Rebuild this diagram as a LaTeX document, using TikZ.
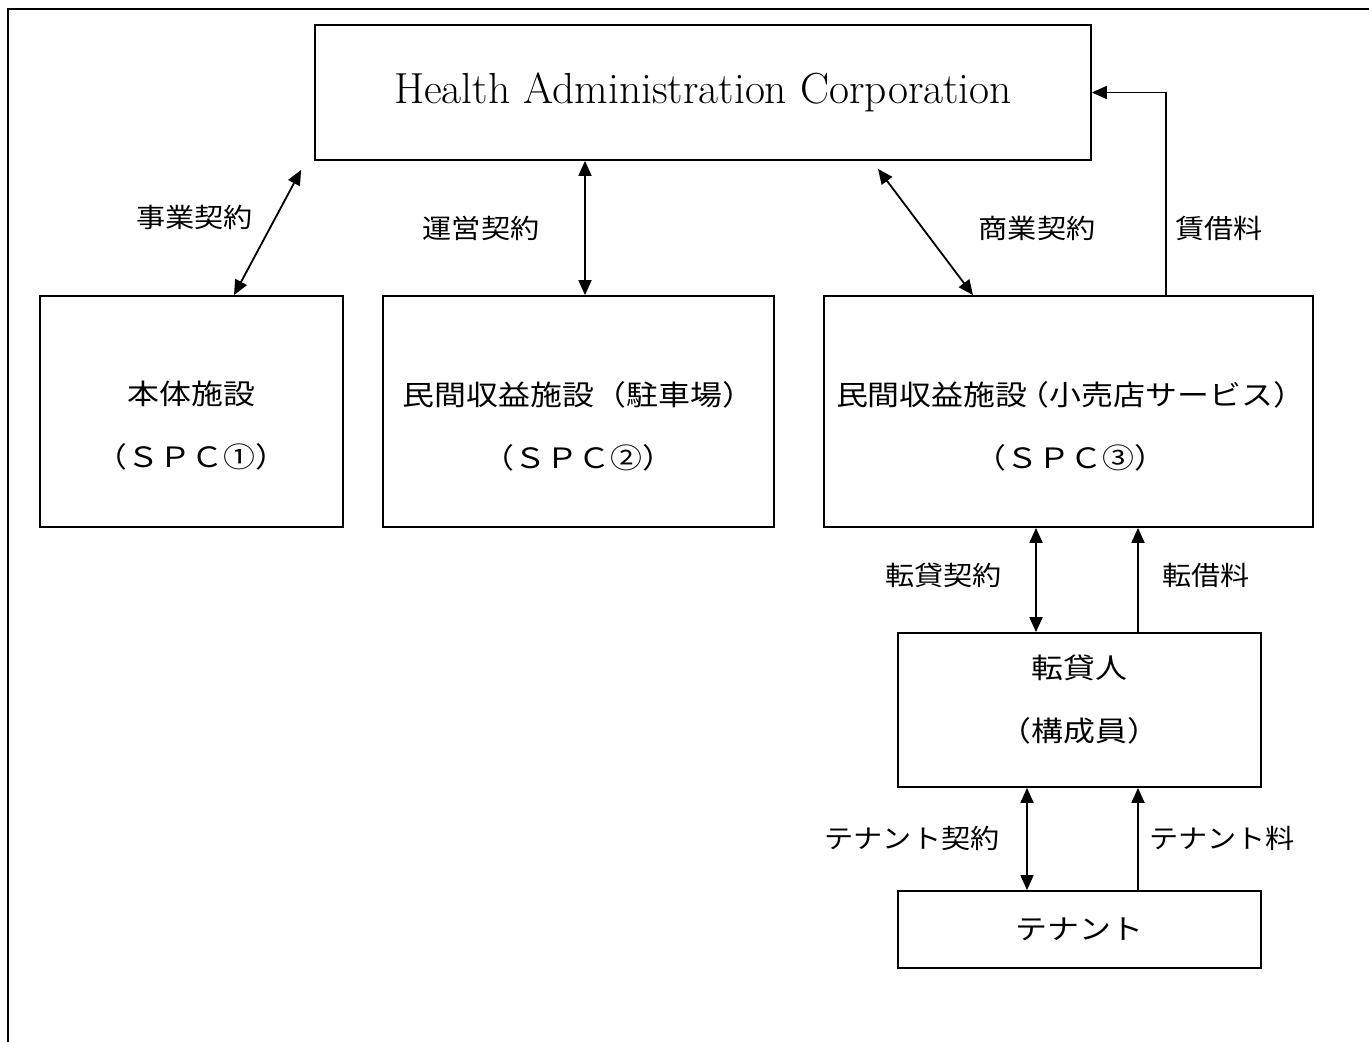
\documentclass[tikz,border=0pt]{standalone}
\usepackage{fontspec}
\newfontfamily\jpl{Noto Sans CJK JP}[FakeStretch=1.1]
\newfontfamily\jpb{Noto Sans CJK JP}[FakeStretch=1.14]
\usetikzlibrary{arrows.meta,calc}
\begin{document}
\begin{tikzpicture}[x=1pt,y=-1pt,
  box/.style={draw, line width=1.8pt, inner sep=0pt},
  txt/.style={font=\jpb\fontsize{28}{63}\selectfont, align=center, inner sep=0pt},
  lbl/.style={font=\jpl\fontsize{26.5}{34}\selectfont, inner sep=0pt},
  tip/.tip={Triangle[length=15pt,width=13pt]},
  con/.style={line width=1.8pt, -tip},
  dcon/.style={line width=1.8pt, tip-tip}]
\useasboundingbox (0,0) rectangle (1369,1042);
\draw[line width=2.6pt] (8,1042) -- (8,9) -- (1369,9);

\node[box, minimum width=776pt, minimum height=135pt, font=\fontsize{43.5}{50}\selectfont] (hac) at (703,92.5) {Health Administration Corporation};
\node[box, minimum width=303pt, minimum height=231pt] (b1) at (191.5,411.5) {};
\node[box, minimum width=391pt, minimum height=231pt] (b2) at (578.5,411.5) {};
\node[box, minimum width=489pt, minimum height=231pt] (b3) at (1068.5,411.5) {};
\node[box, minimum width=363pt, minimum height=154pt] (b4) at (1079.5,710) {};
\node[box, minimum width=363pt, minimum height=77pt] (b5) at (1079.5,929.5) {};

\node[txt] (t1) at ([yshift=-14.5pt]b1.center) {本体施設\\（ＳＰＣ①）};
\node[txt] (t2) at ([yshift=-14.5pt]b2.center) {民間収益施設（駐車場）\\（ＳＰＣ②）};
\node[txt] (t3) at ([yshift=-14.5pt,xshift=2pt]b3.center) {民間収益施設\kern-0.35em（小売店サービス）\\（ＳＰＣ③）};
\node[txt] (t4) at ([yshift=10pt]b4.center) {転貸人\\（構成員）};
\node[txt] (t5) at (b5.center) {テナント};

\draw[dcon] ([xshift=42.5pt]b1.north) -- ([xshift=-13pt,yshift=-9pt]hac.south west);
\draw[dcon] ([xshift=6.5pt]b2.north) -- ([xshift=6.5pt]b2.north |- hac.south);
\draw[dcon] ([xshift=-95.5pt]b3.north) -- ([xshift=175pt,yshift=-8pt]hac.south);
\draw[con] ([xshift=97.5pt]b3.north) |- (hac.east);
\draw[dcon] ([xshift=-43.5pt]b4.north) -- ([xshift=-43.5pt]b4.north |- b3.south);
\draw[con] ([xshift=58.5pt]b4.north) -- ([xshift=58.5pt]b4.north |- b3.south);
\draw[dcon] ([xshift=-52.5pt]b5.north) -- ([xshift=-52.5pt]b5.north |- b4.south);
\draw[con] ([xshift=58.5pt]b5.north) -- ([xshift=58.5pt]b5.north |- b4.south);

\node[lbl] (l1) at (194.5,217) {事業契約};
\node[lbl] (l2) at (481,228) {運営契約};
\node[lbl] (l3) at (1037,228) {商業契約};
\node[lbl] (l4) at (1219,228) {賃借料};
\node[lbl] (l5) at (943.5,575) {転貸契約};
\node[lbl] (l6) at (1206,575) {転借料};
\node[lbl] (l7) at (912,838) {テナント契約};
\node[lbl] (l8) at (1222,838) {テナント料};
\end{tikzpicture}
\end{document}
